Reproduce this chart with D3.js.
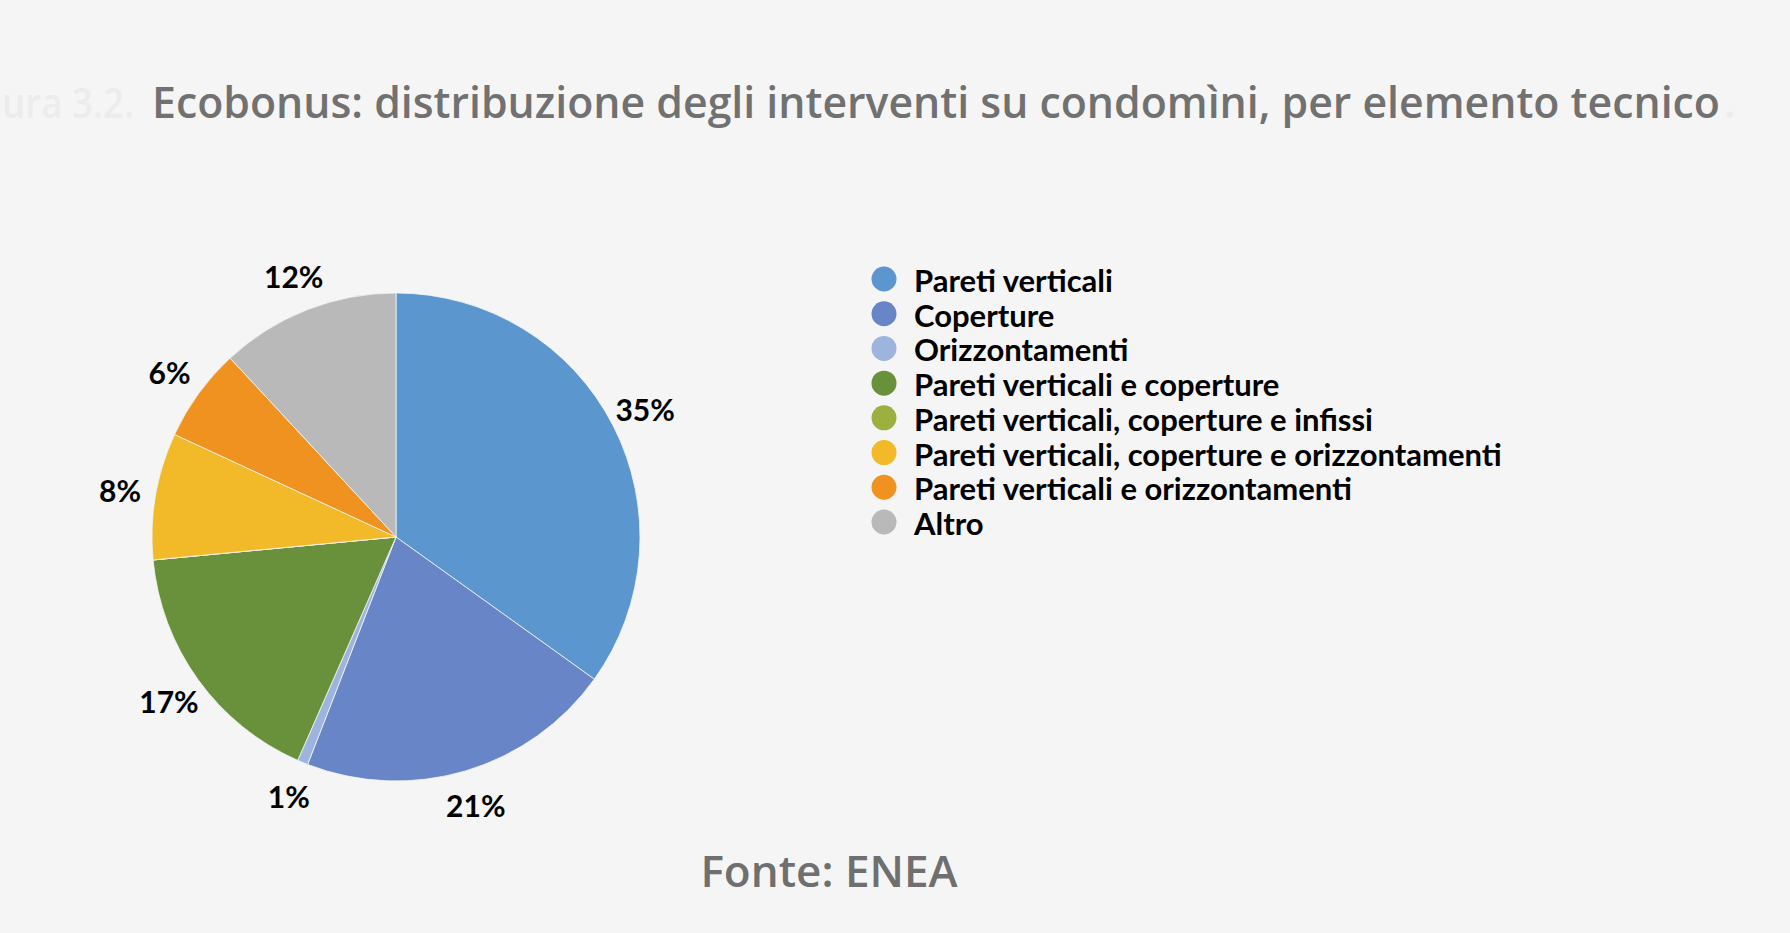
<!DOCTYPE html>
<html><head><meta charset="utf-8">
<script src="https://cdn.jsdelivr.net/npm/d3@7"></script>
<style>
html,body{margin:0;padding:0;background:#f5f5f5;}
svg{display:block;}
</style></head>
<body>
<svg id="chart" width="1790" height="933"></svg>
<script>
const categories = [
  "Pareti verticali",
  "Coperture",
  "Orizzontamenti",
  "Pareti verticali e coperture",
  "Pareti verticali, coperture e infissi",
  "Pareti verticali, coperture e orizzontamenti",
  "Pareti verticali e orizzontamenti",
  "Altro"
];
const values = [34.9, 21.0, 0.7, 16.9, 0, 8.4, 6.2, 11.9];
const labels = ["35%", "21%", "1%", "17%", "", "8%", "6%", "12%"];
const colors = ["#5b96ce", "#6885c8", "#9db4de", "#69913b", "#9cb040", "#f2b928", "#f0921f", "#b9b9b9"];
const titleText = "Ecobonus: distribuzione degli interventi su condomìni, per elemento tecnico";
const figText = "ura 3.2.";
const sourceText = "Fonte: ENEA";

const svg = d3.select("#chart");
svg.append("rect").attr("width",1790).attr("height",933).attr("fill","#f5f5f5");

// faint figure number, as in the reference
svg.append("text").attr("x",2).attr("y",118)
  .attr("font-family","Open Sans").attr("font-weight",600).attr("font-size",42)
  .attr("textLength",132).attr("lengthAdjust","spacingAndGlyphs")
  .attr("fill","#ececec").text(figText);

svg.append("text").attr("x",152).attr("y",118)
  .attr("font-family","Open Sans").attr("font-weight",600).attr("font-size",43)
  .attr("textLength",1568).attr("lengthAdjust","spacingAndGlyphs")
  .attr("fill","#717171").text(titleText);
svg.append("text").attr("x",1724).attr("y",118)
  .attr("font-family","Open Sans").attr("font-weight",600).attr("font-size",43)
  .attr("fill","#ececec").text(".");

const cx = 396, cy = 537, r = 244, rl = 280;
const pie = d3.pie().sort(null).value(d => d.v);
const data = categories.map((c,i)=>({c, v:values[i], label:labels[i], color:colors[i]}));
const arcs = pie(data);
const arc = d3.arc().innerRadius(0).outerRadius(r);
const labelArc = d3.arc().innerRadius(rl).outerRadius(rl);

const g = svg.append("g").attr("transform",`translate(${cx},${cy})`);
g.selectAll("path").data(arcs).join("path")
  .attr("d",arc).attr("fill",d=>d.data.color)
  .attr("stroke","#f5f5f5").attr("stroke-width",0.8);

g.selectAll("text.lbl").data(arcs.filter(d=>d.data.v>0)).join("text")
  .attr("class","lbl")
  .attr("transform",d=>`translate(${labelArc.centroid(d)})`)
  .attr("text-anchor","middle").attr("dominant-baseline","central")
  .attr("font-family","Lato").attr("font-weight",700).attr("font-size",30)
  .attr("fill","#000").text(d=>d.data.label);

// legend
const legY = d3.scalePoint().domain(categories).range([279, 522]);
const leg = svg.append("g");
const items = leg.selectAll("g").data(data).join("g")
  .attr("transform",d=>`translate(0,${legY(d.c)})`);
items.append("circle").attr("cx",884).attr("cy",0).attr("r",12.5).attr("fill",d=>d.color);
items.append("text").attr("x",914).attr("y",1).attr("dominant-baseline","central")
  .attr("font-family","Lato").attr("font-weight",700).attr("font-size",31)
  .attr("fill","#000").text(d=>d.c);

svg.append("text").attr("x",829).attr("y",887).attr("text-anchor","middle")
  .attr("font-family","Open Sans").attr("font-weight",600).attr("font-size",44)
  .attr("fill","#6f6f6f").text(sourceText);
</script>
</body></html>
